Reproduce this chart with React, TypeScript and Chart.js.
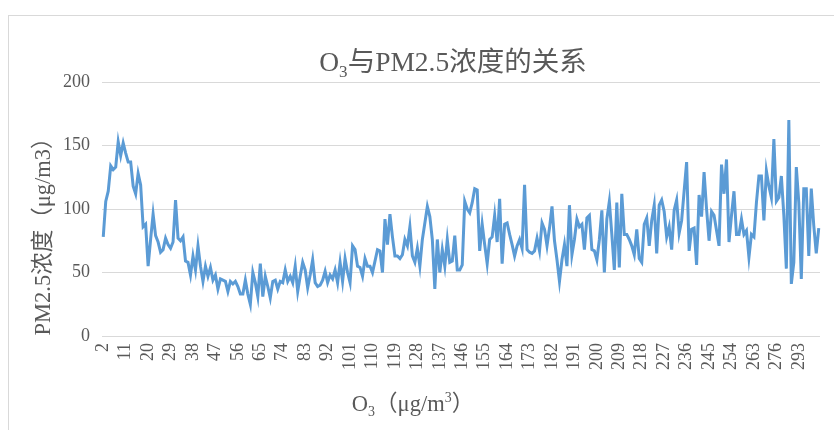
import React, { useEffect, useRef } from "react";
import { Chart, registerables } from "chart.js";

Chart.register(...registerables);

// O3 concentration categories (µg/m³), one per observation, in axis order
const o3Levels: number[] = [
  2, 3, 4, 5, 6, 7, 8, 9, 10, 11, 12, 13, 14, 15, 16, 17, 18, 19, 20, 21,
  22, 23, 24, 25, 26, 27, 28, 29, 30, 31, 32, 33, 34, 35, 36, 37, 38, 39, 40, 41,
  42, 43, 44, 45, 46, 47, 48, 49, 50, 51, 52, 53, 54, 55, 56, 57, 58, 59, 60, 61,
  62, 63, 64, 65, 66, 67, 68, 69, 70, 71, 72, 73, 74, 75, 76, 77, 78, 79, 80, 81,
  82, 83, 84, 85, 86, 87, 88, 89, 90, 91, 92, 93, 94, 95, 96, 97, 98, 99, 100, 101,
  102, 103, 104, 105, 106, 107, 108, 109, 110, 111, 112, 113, 114, 115, 116, 117, 118, 119, 120, 121,
  122, 123, 124, 125, 126, 127, 128, 129, 130, 131, 132, 133, 134, 135, 136, 137, 138, 139, 140, 141,
  142, 143, 144, 145, 146, 147, 148, 149, 150, 151, 152, 153, 154, 155, 156, 157, 158, 159, 160, 161,
  162, 163, 164, 165, 166, 167, 168, 169, 170, 171, 172, 173, 174, 175, 176, 177, 178, 179, 180, 181,
  182, 183, 184, 185, 186, 187, 188, 189, 190, 191, 192, 193, 194, 195, 196, 197, 198, 199, 200, 201,
  202, 203, 204, 205, 206, 207, 208, 209, 210, 211, 212, 213, 214, 215, 216, 217, 218, 219, 220, 221,
  222, 223, 224, 225, 226, 227, 228, 229, 230, 231, 232, 233, 234, 235, 236, 237, 238, 239, 240, 241,
  242, 243, 244, 245, 246, 247, 248, 249, 250, 251, 252, 253, 254, 255, 256, 257, 258, 259, 260, 261,
  262, 263, 264, 265, 266, 268, 269, 271, 272, 274, 276, 278, 280, 281, 283, 285, 287, 289, 291, 293,
  295, 297, 300, 303, 306, 310, 316, 325,
];

// PM2.5 concentration (µg/m³) observed at each O3 level
const pm25Levels: number[] = [
  78, 106, 114, 134, 131, 133, 153, 142, 152, 144, 137, 137, 118, 112, 128, 119, 86, 88, 55, 76,
  96, 79, 74, 66, 68, 77, 72, 69, 74, 107, 77, 75, 78, 59, 58, 48, 63, 52, 71, 55,
  43, 55, 47, 54, 44, 48, 37, 45, 44, 43, 35, 43, 41, 43, 39, 33, 33, 44, 33, 25,
  50, 42, 31, 57, 31, 47, 39, 30, 43, 44, 37, 43, 42, 52, 43, 47, 42, 55, 35, 47,
  58, 52, 38, 48, 60, 42, 39, 40, 44, 51, 42, 48, 45, 52, 42, 58, 43, 61, 50, 42,
  71, 68, 55, 54, 47, 61, 55, 55, 50, 59, 68, 67, 50, 92, 72, 96, 78, 63, 63, 61,
  64, 76, 71, 86, 63, 58, 69, 55, 76, 89, 102, 94, 76, 37, 76, 50, 68, 55, 76, 58,
  59, 79, 52, 52, 56, 106, 100, 97, 105, 116, 115, 67, 88, 72, 57, 76, 78, 95, 74, 108,
  57, 88, 89, 80, 72, 63, 71, 76, 69, 119, 68, 66, 65, 67, 77, 67, 89, 84, 71, 85,
  102, 75, 60, 43, 60, 72, 55, 103, 64, 76, 92, 86, 88, 68, 93, 95, 68, 67, 60, 76,
  99, 50, 92, 106, 80, 52, 105, 54, 112, 80, 80, 76, 71, 64, 84, 61, 58, 88, 93, 71,
  91, 103, 65, 103, 107, 98, 78, 86, 68, 99, 107, 81, 91, 114, 137, 67, 84, 85, 56, 111,
  94, 129, 100, 75, 98, 95, 83, 71, 135, 112, 139, 74, 95, 114, 80, 80, 92, 80, 83, 62,
  80, 78, 105, 126, 126, 91, 130, 118, 109, 155, 106, 109, 126, 95, 53, 170, 41, 58, 133, 105,
  45, 116, 116, 63, 116, 87, 65, 85,
];

// every ninth category carries a visible label
const LABEL_STEP = 9;
const Y_MIN = 0;
const Y_MAX = 200;
const Y_STEP = 50;

const FONT = "'Liberation Serif', 'Noto Sans CJK SC', serif";
const TEXT = "#595959";
const GRID = "#d9d9d9";
const LINE = "#5b9bd5";

type Seg = { text: string; mode?: "sub" | "sup" };

const titleSegs: Seg[] = [
  { text: "O" },
  { text: "3", mode: "sub" },
  { text: "与PM2.5浓度的关系" },
];
const xTitleSegs: Seg[] = [
  { text: "O" },
  { text: "3", mode: "sub" },
  { text: "（μg/m" },
  { text: "3", mode: "sup" },
  { text: "）" },
];
const yTitleSegs: Seg[] = [{ text: "PM2.5浓度（μg/m3）" }];

// draws a run of text with sub/superscript parts, centred on cx, baseline at by
function drawRich(
  ctx: CanvasRenderingContext2D,
  segs: Seg[],
  size: number,
  cx: number,
  by: number,
  angle: number
) {
  ctx.save();
  ctx.translate(cx, by);
  ctx.rotate(angle);
  ctx.fillStyle = TEXT;
  ctx.textBaseline = "alphabetic";
  ctx.textAlign = "left";
  const sized = segs.map((s) => {
    const fs = s.mode ? size * 0.62 : size;
    ctx.font = `${fs}px ${FONT}`;
    return { ...s, fs, w: ctx.measureText(s.text).width };
  });
  const total = sized.reduce((a, s) => a + s.w, 0);
  let x = -total / 2;
  for (const s of sized) {
    ctx.font = `${s.fs}px ${FONT}`;
    const dy = s.mode === "sub" ? size * 0.22 : s.mode === "sup" ? -size * 0.4 : 0;
    ctx.fillText(s.text, x, dy);
    x += s.w;
  }
  ctx.restore();
}

const titlesPlugin = {
  id: "richTitles",
  afterDraw(chart: Chart) {
    const ctx = chart.ctx;
    drawRich(ctx, titleSegs, 27.5, 444, 55, 0);
    drawRich(ctx, xTitleSegs, 22.5, 404, 395, 0);
    drawRich(ctx, yTitleSegs, 22.5, 41, 215, -Math.PI / 2);
  },
};

export default function App() {
  const canvasRef = useRef<HTMLCanvasElement | null>(null);

  useEffect(() => {
    const canvas = canvasRef.current;
    if (!canvas) return;
    const chart = new Chart(canvas, {
      type: "line",
      data: {
        labels: o3Levels.map(String),
        datasets: [
          {
            data: pm25Levels,
            borderColor: LINE,
            backgroundColor: LINE,
            borderWidth: 3,
            pointRadius: 0,
            tension: 0,
            fill: false,
          },
        ],
      },
      options: {
        responsive: false,
        animation: false,
        devicePixelRatio: 1,
        layout: { padding: { top: 66, right: 14, bottom: 0, left: 0 } },
        plugins: {
          legend: { display: false },
          title: { display: false },
          tooltip: { enabled: false },
        },
        scales: {
          x: {
            type: "category",
            offset: true,
            grid: { display: false, drawTicks: false },
            border: { display: false },
            ticks: {
              autoSkip: false,
              minRotation: 90,
              maxRotation: 90,
              padding: 7,
              color: TEXT,
              font: { family: FONT, size: 18 },
              callback: (_v: any, i: number) =>
                i % LABEL_STEP === 0 ? String(o3Levels[i]) : "",
            },
            afterFit: (s: any) => {
              s.height = 94;
              s.paddingLeft = 0;
              s.paddingRight = 0;
            },
          },
          y: {
            min: Y_MIN,
            max: Y_MAX,
            grid: { color: GRID, lineWidth: 1, drawTicks: false },
            border: { display: false },
            ticks: {
              stepSize: Y_STEP,
              padding: 12,
              color: TEXT,
              font: { family: FONT, size: 18 },
            },
            afterFit: (s: any) => {
              s.width = 93;
              s.paddingTop = 0;
              s.paddingBottom = 0;
            },
          },
        },
      },
      plugins: [titlesPlugin],
    });
    return () => chart.destroy();
  }, []);

  return (
    <div
      style={{
        position: "fixed",
        left: 8,
        top: 15,
        width: 826,
        height: 415,
        borderTop: `1px solid ${GRID}`,
        borderLeft: `1px solid ${GRID}`,
        boxSizing: "border-box",
        background: "#fff",
      }}
    >
      <canvas ref={canvasRef} width={825} height={414} style={{ display: "block" }} />
    </div>
  );
}
